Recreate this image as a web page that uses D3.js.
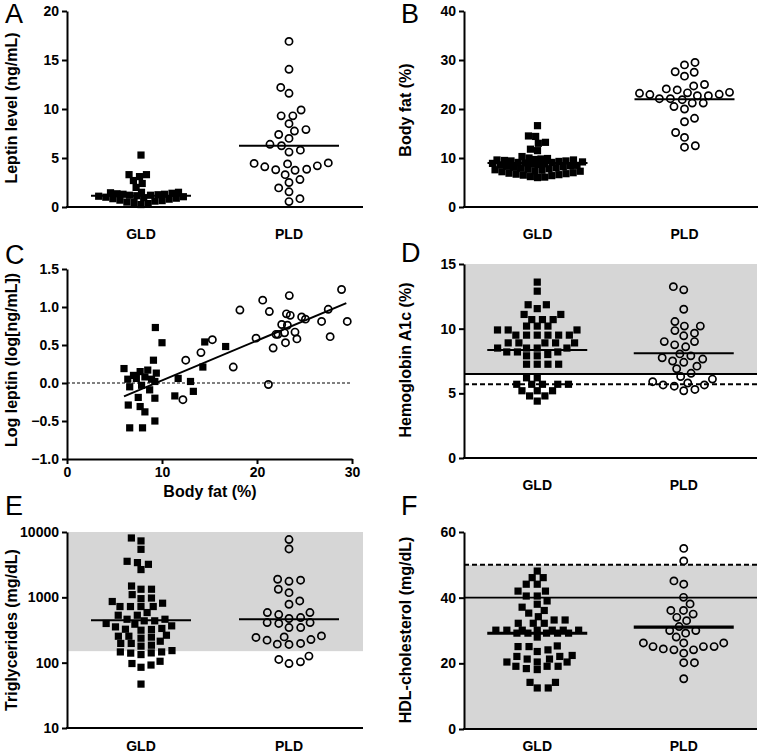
<!DOCTYPE html>
<html><head><meta charset="utf-8">
<script src="https://cdn.jsdelivr.net/npm/d3@7"></script>
<style>body{margin:0;background:#fff}svg{display:block}</style>
</head><body><script>
// ---------------- DATA ----------------
const groups = ["GLD", "PLD"];

// A: Leptin level (ng/mL)
const leptinTicks = [0, 5, 10, 15, 20];
const leptinGLD = [5.3, 3.3, 3.3, 3.1, 2.7, 2.4, 2.0, 1.5, 1.5, 1.45, 1.4, 1.35, 1.3, 1.3, 1.25, 1.2, 1.2, 1.15, 1.1, 1.05, 1.0, 0.95, 0.9, 0.85, 0.8, 0.7, 0.65, 0.6, 0.5, 0.45, 0.35, 0.25];
const leptinPLD = [16.9, 14.05, 12.2, 11.6, 9.9, 9.3, 9.3, 8.5, 7.9, 7.75, 7.4, 7.0, 6.4, 6.25, 5.8, 5.6, 4.5, 4.45, 4.4, 4.2, 4.1, 3.85, 3.8, 3.75, 3.3, 2.8, 2.5, 1.95, 1.55, 0.85, 0.55];
const leptinCenter = [1.15, 6.25];

// B: Body fat (%)
const bodyFatTicks = [0, 10, 20, 30, 40];
const bodyFatGLD = [16.6, 14.5, 14.4, 13.2, 13.0, 11.8, 11.5,
  10.3, 10.0, 9.9, 9.8, 9.7, 9.6, 9.6, 9.5, 9.4, 9.4, 9.3, 9.2, 9.1, 9.1, 9.0, 8.9, 8.8, 8.8, 8.7, 8.6, 8.5, 8.4, 8.3, 8.2, 8.1, 8.0, 7.9, 7.8, 7.7, 7.6, 7.5, 7.4, 7.3, 7.2, 7.0, 6.9, 6.8, 6.7, 6.6, 6.5, 6.4, 6.2, 6.1, 6.0];
const bodyFatPLD = [29.5, 29.0, 27.6, 27.5, 26.7, 25.0, 24.7, 24.1, 23.9, 23.4, 23.3, 23.2, 23.0, 22.95, 22.7, 22.7, 22.1, 22.1, 21.9, 21.2, 21.2, 20.5, 20.0, 18.1, 17.4, 15.2, 14.2, 12.5, 12.2];
const bodyFatCenter = [9.0, 22.0];

// C: Log leptin vs body fat
const corrXTicks = [0, 10, 20, 30];
const corrYTicks = [-1.0, -0.5, 0.0, 0.5, 1.0, 1.5];
const corrGLDx = [9.3, 10.0, 9.1, 6.0, 7.7, 8.5, 9.4, 6.4, 7.3, 8.2, 9.25, 6.6, 7.85, 8.7, 7.5, 9.25, 6.45, 7.7, 8.2, 9.25, 6.6, 7.95, 11.7, 11.35, 13.0, 13.3, 14.3, 14.5, 16.7, 7.0, 8.9];
const corrGLDy = [0.73, 0.53, 0.30, 0.19, 0.15, 0.17, 0.13, 0.05, 0.06, 0.08, 0.02, -0.05, -0.03, -0.09, -0.19, -0.20, -0.29, -0.31, -0.38, -0.50, -0.59, -0.59, 0.06, -0.17, 0.02, -0.11, 0.21, 0.54, 0.48, 0.10, 0.05];
const corrPLDx = [12.2, 12.5, 14.1, 15.3, 17.5, 18.2, 19.9, 20.6, 21.2, 21.3, 21.7, 22.0, 22.2, 22.6, 22.9, 23.0, 23.1, 23.2, 23.4, 23.5, 24.0, 24.2, 24.7, 25.1, 26.8, 27.5, 27.7, 28.9, 29.5];
const corrPLDy = [-0.22, 0.30, 0.40, 0.57, 0.21, 0.96, 0.59, 1.09, -0.02, 0.94, 0.46, 0.64, 0.64, 0.77, 0.66, 0.53, 0.91, 0.76, 1.15, 0.89, 0.67, 0.58, 0.87, 0.84, 0.81, 0.97, 0.61, 1.23, 0.81];
const fitSlope = 0.0524, fitIntercept = -0.49, fitXRange = [6.0, 29.4];

// D: Hemoglobin A1c (%)
const hba1cTicks = [0, 5, 10, 15];
const hba1cGLD = [13.6, 12.9, 11.85, 11.85, 11.55, 11.1, 11.1, 10.7, 10.7, 10.7, 10.2, 10.2, 10.2, 9.9, 9.9, 9.9, 9.5, 9.5, 9.5, 9.5, 9.5, 9.5, 8.9, 8.9, 8.9, 8.9, 8.9, 8.5, 8.5, 8.5, 8.5, 8.2, 8.2, 8.2, 8.0, 7.9, 7.9, 7.25, 7.25, 7.25, 7.25, 6.2, 6.2, 5.7, 5.7, 5.7, 5.7, 5.7, 5.2, 5.2, 5.2, 4.8, 4.8, 4.4];
const hba1cPLD = [13.25, 13.0, 11.5, 10.55, 10.2, 10.2, 9.85, 9.65, 9.45, 9.0, 9.0, 8.75, 8.6, 8.05, 7.9, 7.75, 7.65, 7.5, 7.4, 7.1, 6.9, 6.55, 6.3, 6.1, 5.9, 5.8, 5.65, 5.65, 5.55, 5.3, 5.2];
const hba1cCenter = [8.35, 8.1];
const hba1cShade = [6.5, 15];
const hba1cSolid = 6.5, hba1cDashed = 5.7;

// E: Triglycerides (mg/dL)
const tgTicks = [10, 100, 1000, 10000];
const tgGLD = [8100, 7300, 5430, 3560, 3400, 3200, 2660, 1490, 1330, 1330, 1100, 975, 955, 863, 813, 723, 723, 723, 723, 585, 532, 532, 462, 462, 398, 366, 334, 322, 325, 353, 388, 437, 437, 314, 263, 254, 237, 246, 254, 213, 197, 179, 185, 197, 146, 141, 133, 140, 146, 153, 105, 92, 85, 97, 47];
const tgPLD = [7660, 5500, 1890, 1830, 1760, 1330, 1180, 880, 784, 585, 585, 545, 490, 474, 411, 411, 398, 345, 345, 257, 248, 243, 226, 221, 197, 192, 190, 126, 112, 103, 97];
const tgCenter = [447, 462];
const tgShade = [150, 10000];

// F: HDL-cholesterol (mg/dL)
const hdlTicks = [0, 20, 40, 60];
const hdlGLD = [48.1, 46.1, 46.1, 44.1, 44.1, 42.0, 42.0, 40.5, 40.5, 39.0, 38.0, 37.1, 36.1, 35.3, 34.2, 33.2, 33.2, 32.2, 32.2, 32.2, 30.1, 30.1, 30.1, 30.1, 30.1, 30.1, 30.1, 29.2, 29.2, 29.2, 29.2, 29.2, 28.0, 25.3, 25.1, 25.1, 24.1, 23.6, 21.3, 20.4, 20.4, 22.4, 22.1, 22.1, 20.4, 21.3, 19.1, 18.1, 18.4, 19.1, 19.1, 14.2, 14.2, 12.5, 12.5];
const hdlPLD = [55.0, 51.2, 45.1, 44.1, 40.1, 38.1, 36.1, 36.1, 35.0, 34.0, 33.0, 31.2, 30.0, 30.0, 29.2, 28.0, 26.2, 26.2, 25.1, 24.1, 24.1, 24.4, 23.1, 25.1, 25.1, 26.2, 20.2, 20.2, 15.3];
const hdlCenter = [29.2, 31.0];
const hdlShade = [0, 50];
const hdlSolid = 40, hdlDashed = 50;

// ---------------- DRAWING ----------------
const FONT = '"Liberation Sans", Arial, Helvetica, sans-serif';
const GRAY = "#d6d6d6";
const svg = d3.select("body").append("svg").attr("width", 762).attr("height", 755)
  .attr("font-family", FONT);

function styleAxis(g) {
  g.attr("font-family", FONT).attr("font-size", 14).attr("font-weight", "bold");
  g.select(".domain").attr("stroke", "#000").attr("stroke-width", 2);
  g.selectAll(".tick line").attr("stroke", "#000").attr("stroke-width", 2);
  g.selectAll(".tick text").attr("fill", "#000");
}

// greedy beeswarm (low values nearest the centre); when the column is full,
// points go to the least-overlapping slot inside the column width
function swarm(values, yScale, sx, sy, maxHalf) {
  const pts = values.map(v => ({ v, y: yScale(v), x: 0 }));
  const order = pts.slice().sort((a, b) => b.y - a.y);
  const placed = [];
  let flip = 1;
  for (const p of order) {
    const near = placed.filter(q => Math.abs(q.y - p.y) < sy);
    const iv = near.map(q => {
      const dy = Math.abs(q.y - p.y);
      const h = sx * Math.sqrt(1 - (dy / sy) ** 2);
      return [q.x - h, q.x + h];
    });
    let c = [0];
    iv.forEach(([a, b]) => c.push(a, b));
    c = c.filter(x => Math.abs(x) <= maxHalf + 1e-6 && iv.every(([a, b]) => x <= a + 1e-6 || x >= b - 1e-6));
    if (c.length) {
      c.sort((a, b) => {
        const d = Math.abs(a) - Math.abs(b);
        if (Math.abs(d) > 1e-6) return d;
        return flip * (b - a);
      });
      p.x = c[0];
    } else {
      let best = -1, bx = 0;
      for (let x = -maxHalf; x <= maxHalf + 1e-9; x += 0.5) {
        let s = Infinity;
        near.forEach(q => { const v = ((q.x - x) / sx) ** 2 + ((q.y - p.y) / sy) ** 2; if (v < s) s = v; });
        if (s > best + 1e-9 || (Math.abs(s - best) < 1e-9 && Math.abs(x) < Math.abs(bx))) { best = s; bx = x; }
      }
      p.x = bx;
    }
    if (Math.abs(p.x) > 1e-6) flip = -flip;
    placed.push(p);
  }
  return pts;
}

function drawSquare(g, x, y) {
  g.append("rect").attr("x", x - 3.6).attr("y", y - 3.6).attr("width", 7.2).attr("height", 7.2).attr("fill", "#000");
}
function drawCircle(g, x, y) {
  g.append("circle").attr("cx", x).attr("cy", y).attr("r", 3.6).attr("fill", "none").attr("stroke", "#000").attr("stroke-width", 1.7);
}

function letter(t, x, y) {
  svg.append("text").attr("x", x).attr("y", y).attr("font-size", 27).attr("font-family", FONT).text(t);
}
function yTitle(t, x, y) {
  svg.append("text").attr("transform", `translate(${x},${y}) rotate(-90)`).attr("text-anchor", "middle")
    .attr("font-size", 16).attr("font-weight", "bold").attr("font-family", FONT).text(t);
}

function dotPanel(p) {
  const g = svg.append("g");
  const y = p.y;
  const xb = d3.scaleBand().domain(groups).range([p.x0, p.x1]).padding(0);
  if (p.shade) {
    g.append("rect").attr("x", p.x0).attr("width", p.x1 - p.x0)
      .attr("y", y(p.shade[1])).attr("height", y(p.shade[0]) - y(p.shade[1])).attr("fill", GRAY);
  }
  if (p.solid != null) g.append("line").attr("x1", p.x0).attr("x2", p.x1).attr("y1", y(p.solid)).attr("y2", y(p.solid))
    .attr("stroke", "#000").attr("stroke-width", p.solidW || 2);
  if (p.dashed != null) g.append("line").attr("x1", p.x0).attr("x2", p.x1).attr("y1", y(p.dashed)).attr("y2", y(p.dashed))
    .attr("stroke", "#000").attr("stroke-width", 2).attr("stroke-dasharray", "5,3");
  p.series.forEach((vals, i) => {
    const cx = xb(groups[i]) + xb.bandwidth() / 2;
    const pts = swarm(vals, y, p.sx[i], i === 0 ? 7.4 : 8.3, 45);
    pts.forEach(d => (i === 0 ? drawSquare : drawCircle)(g, cx + d.x, d.y));
  });
  p.center.forEach((v, i) => {
    const cx = xb(groups[i]) + xb.bandwidth() / 2;
    g.append("line").attr("x1", cx - 50).attr("x2", cx + 50).attr("y1", y(v)).attr("y2", y(v))
      .attr("stroke", "#000").attr("stroke-width", p.centerW ? p.centerW[i] : 2);
  });
  g.append("line").attr("x1", p.x0 - 1).attr("x2", p.x1).attr("y1", p.yBottom).attr("y2", p.yBottom)
    .attr("stroke", "#000").attr("stroke-width", 2);
  const ax = g.append("g").attr("transform", `translate(${p.x0},0)`)
    .call(d3.axisLeft(y).tickValues(p.ticks).tickFormat(p.fmt || d3.format("d")).tickSize(5).tickSizeOuter(0).tickPadding(3));
  styleAxis(ax);
  groups.forEach(gr => {
    g.append("text").attr("x", xb(gr) + xb.bandwidth() / 2).attr("y", p.labelY).attr("text-anchor", "middle")
      .attr("font-size", 14).attr("font-weight", "bold").attr("font-family", FONT).text(gr);
  });
}

// Panel A
dotPanel({ x0: 67, x1: 363, yBottom: 207, labelY: 239,
  y: d3.scaleLinear().domain([0, 20]).range([207, 11]), ticks: leptinTicks,
  series: [leptinGLD, leptinPLD], center: leptinCenter, sx: [7.2, 11.7] });
letter("A", 5, 23); yTitle("Leptin level (ng/mL)", 17, 108);

// Panel B
dotPanel({ x0: 464, x1: 758, yBottom: 207, labelY: 239,
  y: d3.scaleLinear().domain([0, 40]).range([207, 11]), ticks: bodyFatTicks,
  series: [bodyFatGLD, bodyFatPLD], center: bodyFatCenter, sx: [7.2, 11] });
letter("B", 401, 23); yTitle("Body fat (%)", 411, 110);

// Panel C
(function () {
  const g = svg.append("g");
  const x = d3.scaleLinear().domain([0, 30]).range([67, 352]);
  const y = d3.scaleLinear().domain([-1, 1.5]).range([459, 269]);
  g.append("line").attr("x1", x(0)).attr("x2", x(30)).attr("y1", y(0)).attr("y2", y(0))
    .attr("stroke", "#000").attr("stroke-width", 1).attr("stroke-dasharray", "3,2");
  corrGLDx.forEach((v, i) => drawSquare(g, x(v), y(corrGLDy[i])));
  corrPLDx.forEach((v, i) => drawCircle(g, x(v), y(corrPLDy[i])));
  g.append("line").attr("x1", x(fitXRange[0])).attr("x2", x(fitXRange[1]))
    .attr("y1", y(fitIntercept + fitSlope * fitXRange[0])).attr("y2", y(fitIntercept + fitSlope * fitXRange[1]))
    .attr("stroke", "#000").attr("stroke-width", 2);
  const ay = g.append("g").attr("transform", "translate(67,0)")
    .call(d3.axisLeft(y).tickValues(corrYTicks).tickFormat(d3.format(".1f")).tickSize(5).tickSizeOuter(0).tickPadding(3));
  styleAxis(ay);
  const axb = g.append("g").attr("transform", "translate(0,459)")
    .call(d3.axisBottom(x).tickValues(corrXTicks).tickFormat(d3.format("d")).tickSize(5).tickSizeOuter(0).tickPadding(3));
  styleAxis(axb);
  g.append("text").attr("x", 210).attr("y", 497).attr("text-anchor", "middle").attr("font-size", 16)
    .attr("font-weight", "bold").attr("font-family", FONT).text("Body fat (%)");
})();
letter("C", 5, 264); yTitle("Log leptin (log[ng/mL])", 17, 360);

// Panel D
dotPanel({ x0: 464, x1: 757, yBottom: 458, labelY: 490,
  y: d3.scaleLinear().domain([0, 15]).range([458, 264]), ticks: hba1cTicks,
  series: [hba1cGLD, hba1cPLD], center: hba1cCenter, shade: hba1cShade,
  solid: hba1cSolid, dashed: hba1cDashed, sx: [10.7, 11.3] });
letter("D", 401, 262); yTitle("Hemoglobin A1c (%)", 411, 360);

// Panel E
dotPanel({ x0: 67, x1: 363, yBottom: 728, labelY: 751,
  y: d3.scaleLog().domain([10, 10000]).range([728, 532]), ticks: tgTicks, fmt: d3.format("d"),
  series: [tgGLD, tgPLD], center: tgCenter, shade: tgShade, sx: [10.5, 11.7] });
letter("E", 5, 515); yTitle("Triglycerides (mg/dL)", 17, 630);

// Panel F
dotPanel({ x0: 464, x1: 757, yBottom: 729, labelY: 751,
  y: d3.scaleLinear().domain([0, 60]).range([729, 532]), ticks: hdlTicks,
  series: [hdlGLD, hdlPLD], center: hdlCenter, shade: hdlShade,
  solid: hdlSolid, solidW: 1.7, dashed: hdlDashed, centerW: [3, 3.2], sx: [11, 10.7] });
letter("F", 401, 515); yTitle("HDL-cholesterol (mg/dL)", 411, 630);
</script></body></html>
